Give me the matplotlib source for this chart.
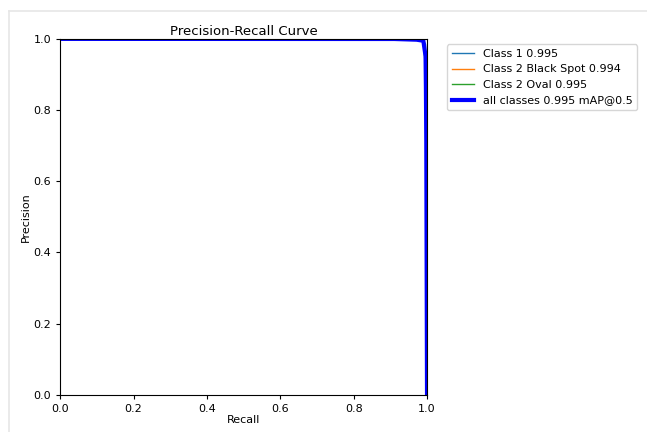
import numpy as np
import matplotlib.pyplot as plt
from matplotlib.lines import Line2D

# per-class PR curve points
names = ["Class 1", "Class 2 Black Spot", "Class 2 Oval"]
ap = [0.995, 0.994, 0.995]

rec_c1 = [0.0, 0.90, 0.97, 0.99, 0.996, 1.0]
pre_c1 = [1.0, 1.0, 0.998, 0.995, 0.985, 0.0]

rec_c2 = [0.0, 0.90, 0.97, 0.99, 0.997, 0.998, 1.0]
pre_c2 = [1.0, 1.0, 0.998, 0.994, 0.95, 0.91, 0.0]

rec_c3 = [0.0, 0.90, 0.97, 0.99, 0.997, 0.998, 1.0]
pre_c3 = [1.0, 1.0, 0.998, 0.995, 0.90, 0.73, 0.0]

map50 = 0.995

px = np.linspace(0, 1, 1000)
curves = [np.interp(px, r, p) for r, p in [(rec_c1, pre_c1), (rec_c2, pre_c2), (rec_c3, pre_c3)]]

fig = plt.figure(figsize=(6.47, 4.32), dpi=100)
ax = fig.add_axes([0.093, 0.086, 0.567, 0.824])

for i, py in enumerate(curves):
    ax.plot(px, py, linewidth=1, label=f"{names[i]} {ap[i]:.3f}")
ax.plot(px, np.mean(curves, axis=0), linewidth=3, color="blue", label=f"all classes {map50:.3f} mAP@0.5")

ax.set_xlim(0, 1)
ax.set_ylim(0, 1)
ax.set_xlabel("Recall", fontsize=8, labelpad=1)
ax.set_ylabel("Precision", fontsize=8, labelpad=2)
ax.set_title("Precision-Recall Curve", fontsize=9.5, pad=3)
ax.tick_params(labelsize=8, length=3)
ax.legend(bbox_to_anchor=(1.04, 1), loc="upper left", fontsize=8)

# light border of the screenshot
fig.add_artist(Line2D([9 / 647, 1], [1 - 11 / 432, 1 - 11 / 432], color="#e6e6e6", linewidth=1.2))
fig.add_artist(Line2D([9 / 647, 9 / 647], [0, 1 - 11 / 432], color="#e6e6e6", linewidth=1.2))

fig.savefig("out.png", dpi=100)
